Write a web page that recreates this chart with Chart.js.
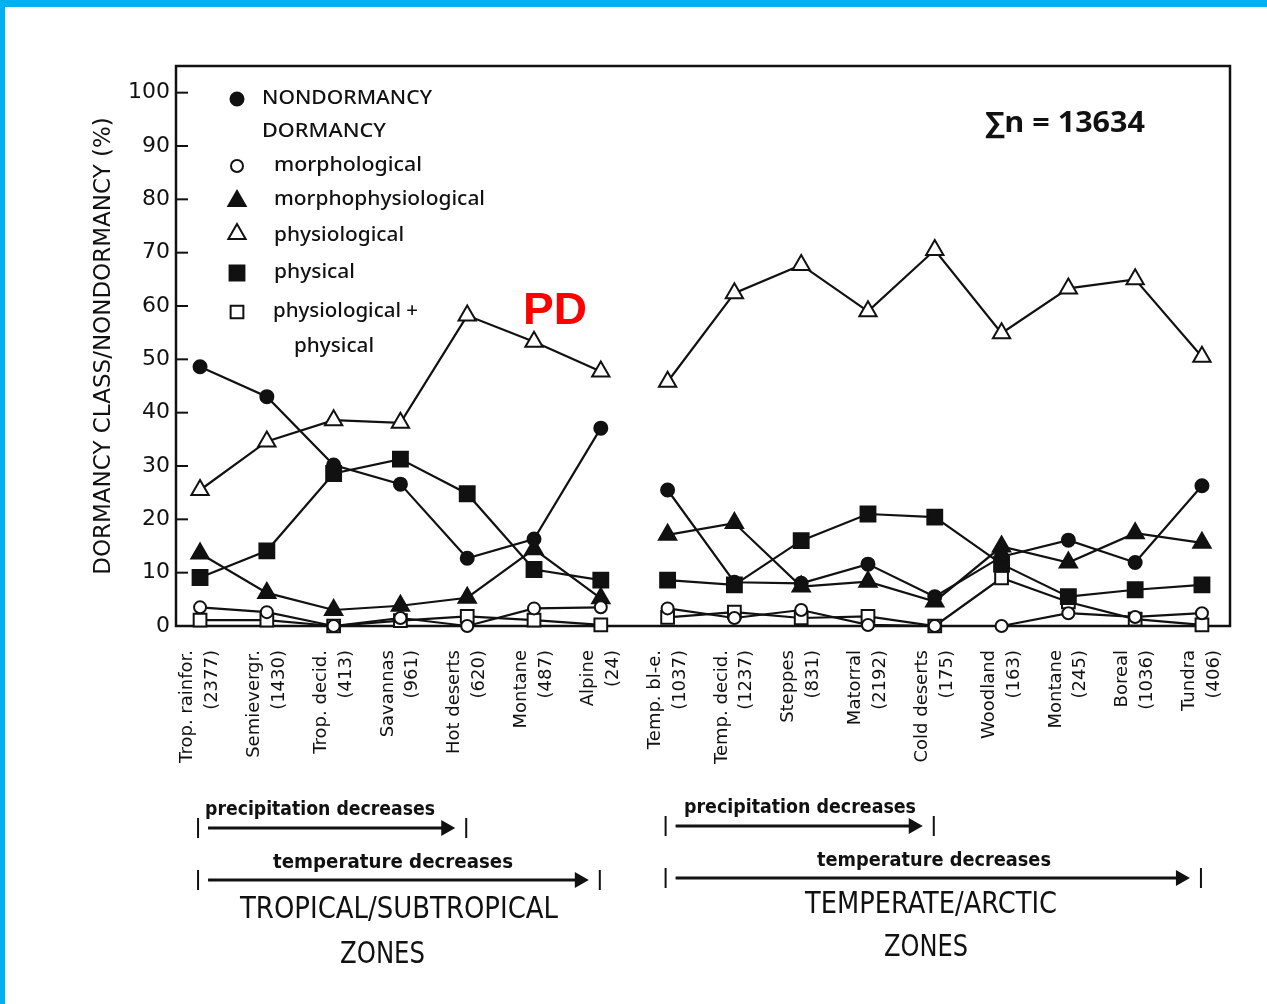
<!DOCTYPE html>
<html><head><meta charset="utf-8">
<script src="https://cdn.jsdelivr.net/npm/chart.js@4/dist/chart.umd.min.js"></script>
<style>
html,body{margin:0;padding:0;background:#fff;}
#wrap{position:relative;width:1267px;height:1004px;overflow:hidden;background:#fff;}
canvas{position:absolute;left:0;top:0;}
#bt{position:absolute;left:0;top:0;width:1267px;height:7px;background:#00b0f0;}
#bl{position:absolute;left:0;top:0;width:5px;height:1004px;background:#00b0f0;}
</style></head>
<body><div id="wrap"><canvas id="c" width="1267" height="1004"></canvas><div id="bt"></div><div id="bl"></div></div>
<script>
// ---------- DATA ----------
const categories = ['Trop. rainfor.','Semievergr.','Trop. decid.','Savannas','Hot deserts','Montane','Alpine',
  'Temp. bl-e.','Temp. decid.','Steppes','Matorral','Cold deserts','Woodland','Montane','Boreal','Tundra'];
const counts = ['(2377)','(1430)','(413)','(961)','(620)','(487)','(24)',
  '(1037)','(1237)','(831)','(2192)','(175)','(163)','(245)','(1036)','(406)'];
const tropicalCount = 7;
const nondormancy         = [48.6, 43.0, 30.2, 26.6, 12.7, 16.3, 37.1, 25.5, 8.2, 8.0, 11.6, 5.5, 13.0, 16.1, 11.9, 26.3];
const morphological       = [3.5, 2.6, 0.0, 1.5, 0.0, 3.3, 3.5, 3.3, 1.5, 3.0, 0.2, 0.0, 0.0, 2.4, 1.7, 2.4];
const morphophysiological = [13.6, 6.2, 3.0, 3.8, 5.3, 14.4, 5.2, 17.1, 19.3, 7.4, 8.3, 4.6, 14.9, 11.9, 17.4, 15.6];
const physiological       = [25.5, 34.6, 38.6, 38.1, 58.2, 53.3, 47.7, 45.8, 62.4, 67.7, 59.0, 70.5, 54.9, 63.3, 65.0, 50.5];
const physical            = [9.1, 14.1, 28.6, 31.3, 24.8, 10.6, 8.6, 8.6, 7.7, 16.0, 21.0, 20.4, 11.6, 5.5, 6.8, 7.7];
const physiologicalPlusPhysical = [1.1, 1.1, 0.0, 1.0, 1.8, 1.1, 0.2, 1.6, 2.6, 1.5, 1.8, 0.0, 9.0, 4.5, 1.3, 0.2];
const yTickValues = [0,5,10,15,20,25,30,35,40,45,50,55,60,65,70,75,80,85,90,95,100];
const totalText = '\u2211n = 13634';

// ---------- STYLE ----------
const INK = '#111';
const series = [
  {label:'NONDORMANCY', data:nondormancy, style:'circle', r:6.5, fill:INK},
  {label:'morphological', data:morphological, style:'circle', r:6, fill:'#fff'},
  {label:'morphophysiological', data:morphophysiological, style:'triangle', r:10, fill:INK},
  {label:'physiological', data:physiological, style:'triangle', r:10, fill:'#fff'},
  {label:'physical', data:physical, style:'rect', r:10.5, fill:INK},
  {label:'physiological + physical', data:physiologicalPlusPhysical, style:'rect', r:9, fill:'#fff'}
];

const datasets = series.map(s => ({
  label: s.label,
  data: s.data.map((v, i) => ({x: i, y: v})),
  borderColor: INK, borderWidth: 2.2, tension: 0, fill: false, clip: false,
  pointStyle: s.style, pointRadius: s.r, pointHoverRadius: s.r,
  pointBackgroundColor: s.fill, pointBorderColor: INK, pointBorderWidth: 2,
  segment: { borderColor: c => c.p0DataIndex === tropicalCount - 1 ? 'rgba(0,0,0,0)' : INK }
}));

function marker(ctx, style, r, fill, x, y) {
  ctx.save(); ctx.beginPath();
  if (style === 'circle') ctx.arc(x, y, r, 0, Math.PI * 2);
  else if (style === 'triangle') {
    for (let k = 0; k < 3; k++) {
      const a = k * 2 * Math.PI / 3;
      const px = x + Math.sin(a) * r, py = y - Math.cos(a) * r;
      k ? ctx.lineTo(px, py) : ctx.moveTo(px, py);
    }
    ctx.closePath();
  } else { const s = r * Math.SQRT1_2; ctx.rect(x - s, y - s, 2 * s, 2 * s); }
  ctx.fillStyle = fill; ctx.fill(); ctx.lineWidth = 2; ctx.strokeStyle = INK; ctx.stroke();
  ctx.restore();
}
function fitText(ctx, text, x, y, w, font, color) {
  ctx.save(); ctx.font = font; ctx.fillStyle = color || INK;
  ctx.textBaseline = 'middle'; ctx.textAlign = 'left';
  const m = ctx.measureText(text).width;
  ctx.translate(x, y); ctx.scale(w / m, 1); ctx.fillText(text, 0, 0);
  ctx.restore();
}

const LEG_FONT = '500 19px "Noto Sans", "DejaVu Sans", sans-serif';
const legendRows = [
  {s:0, my:99, tx:262, ty:99, tw:170, text:'NONDORMANCY'},
  {s:-1, tx:262, ty:132, tw:124, text:'DORMANCY'},
  {s:1, my:166, tx:274, ty:166, tw:148, text:'morphological'},
  {s:2, my:201, tx:274, ty:200, tw:211, text:'morphophysiological'},
  {s:3, my:234, tx:274, ty:236, tw:130, text:'physiological'},
  {s:4, my:273, tx:274, ty:273, tw:81, text:'physical'},
  {s:5, my:312, tx:273, ty:312, tw:145, text:'physiological +'},
  {s:-1, tx:294, ty:347, tw:80, text:'physical'}
];

const COND = '"Liberation Sans Narrow", "DejaVu Sans Condensed", "Liberation Sans", sans-serif';
const arrows = [
  {from:0, to:4, y:828, text:'precipitation decreases', tx:205, tw:230, ty:810},
  {from:0, to:6, y:880, text:'temperature decreases', tx:273, tw:240, ty:863},
  {from:7, to:11, y:826, text:'precipitation decreases', tx:684, tw:232, ty:808},
  {from:7, to:15, y:878, text:'temperature decreases', tx:817, tw:234, ty:861}
];
const zoneTexts = [
  {text:'TROPICAL/SUBTROPICAL', x:240, w:318, y:910},
  {text:'ZONES', x:340, w:85, y:955},
  {text:'TEMPERATE/ARCTIC', x:805, w:252, y:905},
  {text:'ZONES', x:884, w:84, y:948}
];

const framePlugin = {
  id: 'frame',
  beforeDatasetsDraw(chart) {
    const {ctx, chartArea: a, scales: {y}} = chart;
    ctx.save();
    ctx.strokeStyle = INK; ctx.lineWidth = 2.5;
    ctx.strokeRect(a.left, a.top, a.right - a.left, a.bottom - a.top);
    ctx.lineWidth = 2;
    y.ticks.forEach(t => {
      const py = y.getPixelForValue(t.value);
      ctx.beginPath(); ctx.moveTo(a.left, py); ctx.lineTo(a.left + 12, py); ctx.stroke();
    });
    ctx.restore();
  }
};

const annotatePlugin = {
  id: 'annotate',
  afterDraw(chart) {
    const ctx = chart.ctx, xs = chart.scales.x;
    legendRows.forEach(row => {
      if (row.s >= 0) {
        const s = series[row.s];
        marker(ctx, s.style, s.r, s.fill, 237, row.my);
      }
      fitText(ctx, row.text, row.tx, row.ty, row.tw, LEG_FONT);
    });
    fitText(ctx, totalText, 985, 124, 160, 'bold 28px "Open Sans", "DejaVu Sans", sans-serif');
    fitText(ctx, 'PD', 523, 312, 64, 'bold 45px "Liberation Sans", Arial, sans-serif', '#ff0000');
    arrows.forEach(ar => {
      const xl = xs.getPixelForValue(ar.from) - 2, xr = xs.getPixelForValue(ar.to) - 1;
      ctx.save();
      ctx.strokeStyle = INK; ctx.fillStyle = INK; ctx.lineWidth = 2;
      [xl, xr].forEach(bx => { ctx.beginPath(); ctx.moveTo(bx, ar.y - 10); ctx.lineTo(bx, ar.y + 10); ctx.stroke(); });
      const tip = xr - 11;
      ctx.lineWidth = 3;
      ctx.beginPath(); ctx.moveTo(xl + 10, ar.y); ctx.lineTo(tip - 10, ar.y); ctx.stroke();
      ctx.beginPath(); ctx.moveTo(tip, ar.y); ctx.lineTo(tip - 14, ar.y - 8); ctx.lineTo(tip - 14, ar.y + 8); ctx.closePath(); ctx.fill();
      ctx.restore();
      fitText(ctx, ar.text, ar.tx, ar.ty, ar.tw, 'bold 19px ' + COND);
    });
    zoneTexts.forEach(z => fitText(ctx, z.text, z.x, z.y, z.w, '30px ' + COND));
  }
};

new Chart(document.getElementById('c'), {
  type: 'line',
  data: { datasets },
  options: {
    responsive: false, animation: false,
    layout: { padding: { left: 0, top: 66, right: 37, bottom: 0 } },
    plugins: { legend: { display: false }, tooltip: { enabled: false } },
    scales: {
      x: {
        type: 'linear', min: -0.36, max: 15.42,
        afterBuildTicks: s => { s.ticks = categories.map((_, i) => ({value: i})); },
        afterFit: s => { s.height = 378; s.paddingLeft = 0; s.paddingRight = 0; },
        grid: { display: false, drawTicks: false }, border: { display: false },
        ticks: {
          autoSkip: false, maxRotation: 90, minRotation: 90, padding: 24, labelOffset: -12.5,
          color: INK, font: { family: '"DejaVu Sans", sans-serif', size: 18, lineHeight: 1.38 },
          callback: v => [categories[v], counts[v]]
        }
      },
      y: {
        type: 'linear', min: 0, max: 105,
        afterBuildTicks: s => { s.ticks = yTickValues.map(v => ({value: v})); },
        afterFit: s => { s.width = 176; s.paddingTop = 0; s.paddingBottom = 0; },
        grid: { display: false, drawTicks: false }, border: { display: false },
        ticks: {
          padding: 6, color: INK, font: { family: '"DejaVu Sans", sans-serif', size: 22 },
          callback: v => (v % 10 === 0 ? String(v) : '')
        },
        title: {
          display: true, text: 'DORMANCY CLASS/NONDORMANCY (%)', color: INK,
          font: { family: '"DejaVu Sans", sans-serif', size: 23 }, padding: { top: 90, bottom: 0 }
        }
      }
    }
  },
  plugins: [framePlugin, annotatePlugin]
});
</script></body></html>
